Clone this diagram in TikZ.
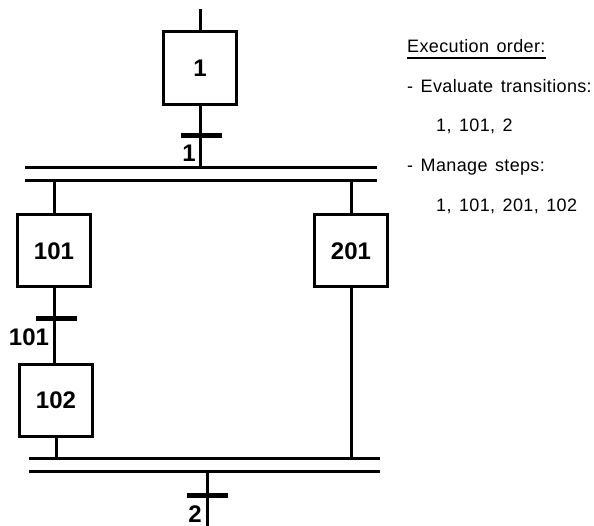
\documentclass[tikz,border=0pt]{standalone}
\usepackage{fontspec}
\setmainfont{Liberation Sans}
\newfontfamily\wide{Liberation Sans}[LetterSpace=2, WordSpace=1.4]
\usepackage{tikz}

\begin{document}
\begin{tikzpicture}[x=1pt, y=-1pt,
  stepbox/.style={rectangle, draw, line width=3pt, minimum width=73pt, minimum height=72pt, inner sep=0pt, font=\fontsize{24}{24}\selectfont\bfseries},
  trans/.style={rectangle, fill, minimum width=41pt, minimum height=5pt, inner sep=0pt},
  tlabel/.style={inner sep=0pt, font=\fontsize{24}{24}\selectfont\bfseries},
  link/.style={line width=3pt},
  note/.style={anchor=base west, inner sep=0pt, font=\wide\fontsize{18}{18}\selectfont}
]
\useasboundingbox (0,0) rectangle (594,526);

\coordinate (top) at (200,9);
\node[stepbox, minimum height=73pt] (s1) at (200,68) {1};
\node[trans] (t1) at (201,136) {};
\node[tlabel] (l1) at (189,153) {1};

\coordinate (b1l) at (25,168);
\coordinate (b1r) at (377,168);
\coordinate (b2l) at (25,181);
\coordinate (b2r) at (377,181);

\node[stepbox] (s101) at (54,251) {101};
\node[stepbox] (s201) at (351,251) {201};
\node[trans] (t101) at (56,319) {};
\node[tlabel] (l101) at (29,337) {101};
\node[stepbox] (s102) at (56,400) {102};

\coordinate (b3l) at (29,458);
\coordinate (b3r) at (380,458);
\coordinate (b4l) at (29,471);
\coordinate (b4r) at (380,471);

\node[trans] (t2) at (207,495) {};
\node[tlabel] (l2) at (195,514) {2};
\coordinate (bot) at (207,526);

\draw[link] (top) -- (s1);
\draw[link] (s1.south) -- (s1.south |- b1l);
\draw[link] (b1l) -- (b1r);
\draw[link] (b2l) -- (b2r);
\draw[link] (s101.north |- b2l) -- (s101.north);
\draw[link] (s201.north |- b2l) -- (s201.north);
\draw[link] (s101.south) -- (s101.south |- s102.north);
\draw[link] (s102.south) -- (s102.south |- b3l);
\draw[link] (s201.south) -- (s201.south |- b3l);
\draw[link] (b3l) -- (b3r);
\draw[link] (b4l) -- (b4r);
\draw[link] (t2 |- b4l) -- (bot);

\node[note] (hdr) at (407,52.7) {Execution order:};
\draw[line width=2pt] ([yshift=-5.3pt]hdr.base west) -- ([yshift=-5.3pt]hdr.base east);
\node[note] (n1) at (407,92.7) {- Evaluate transitions:};
\node[note] (n2) at (436,131.7) {1, 101, 2};
\node[note] (n3) at (407,172) {- Manage steps:};
\node[note] (n4) at (436,212) {1, 101, 201, 102};
\end{tikzpicture}
\end{document}
